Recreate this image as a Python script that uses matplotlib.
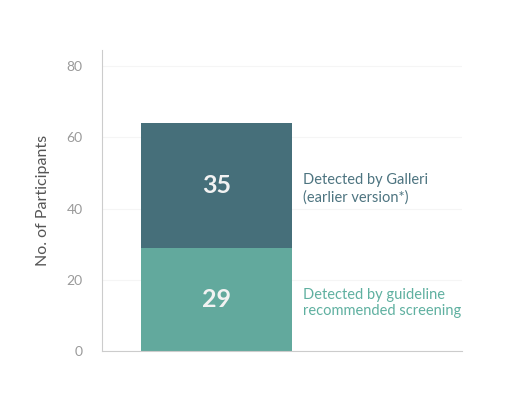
import matplotlib
matplotlib.use("Agg")
import matplotlib.pyplot as plt

plt.rcParams['font.family'] = ['Lato', 'DejaVu Sans']

# data
guideline = [29]
galleri = [35]
yticks = [0, 20, 40, 60, 80]
labels = ['Detected by Galleri\n(earlier version*)',
          'Detected by guideline\nrecommended screening']

dark = '#466f7a'
light = '#62a99d'

fig = plt.figure(figsize=(5.12, 4), dpi=100)
ax = fig.add_axes([0.199, 0.1225, 0.703, 0.7525])

x = [0]
ax.bar(x, guideline, width=0.6, color=light, zorder=2)
ax.bar(x, galleri, bottom=guideline, width=0.6, color=dark, zorder=2)

ax.text(x[0], guideline[0] / 2, str(guideline[0]), ha='center', va='center',
        color='#f2f2f2', fontsize=18, fontweight='bold', zorder=3)
ax.text(x[0], guideline[0] + galleri[0] / 2, str(galleri[0]), ha='center', va='center',
        color='#f2f2f2', fontsize=18, fontweight='bold', zorder=3)

# side labels
ax.text(0.343, guideline[0] + galleri[0] / 2 - 1, labels[0], ha='left', va='center',
        color='#4d7480', fontsize=10.5, linespacing=1.25)
ax.text(0.343, guideline[0] / 2 - 1, labels[1], ha='left', va='center',
        color='#5fb0a0', fontsize=10.5, linespacing=1.25)

ax.set_xlim(-0.455, 0.975)
ax.set_ylim(0, 84.5)
ax.set_yticks(yticks)
ax.set_xticks([])
ax.tick_params(axis='y', length=0, pad=14, labelsize=10, labelcolor='#9a9a9a')
ax.set_ylabel('No. of Participants', fontsize=11.5, color='#555555', labelpad=12)
ax.grid(axis='y', color='#f5f5f5', linewidth=0.8, zorder=0)

for s in ['top', 'right']:
    ax.spines[s].set_visible(False)
for s in ['left', 'bottom']:
    ax.spines[s].set_color('#cccccc')
    ax.spines[s].set_linewidth(0.8)

fig.savefig('out.png', dpi=100)
